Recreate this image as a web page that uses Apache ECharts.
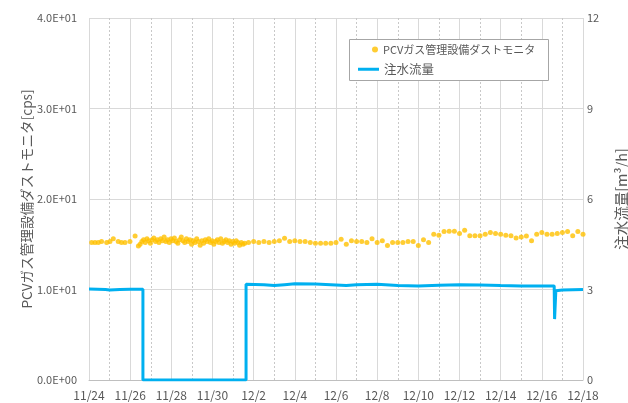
<!DOCTYPE html>
<html>
<head>
<meta charset="utf-8">
<script src="https://cdn.jsdelivr.net/npm/echarts@6/dist/echarts.min.js"></script>
<style>html,body{margin:0;padding:0;background:#fff;}#c{width:628px;height:403px;}</style>
</head>
<body>
<div id="c"></div>
<script>
// x values are days since 11/24
const xTickLabels = ['11/24','11/26','11/28','11/30','12/2','12/4','12/6','12/8','12/10','12/12','12/14','12/16','12/18'];
const leftTickLabels = ['0.0E+00','1.0E+01','2.0E+01','3.0E+01','4.0E+01'];
const rightTickLabels = ['0','3','6','9','12'];

const dustName = 'PCVガス管理設備ダストモニタ';
const flowName = '注水流量';

// dust monitor: early sparse readings [day, cps]
const dustEarly = [[0.13,15.2],[0.29,15.2],[0.45,15.2],[0.61,15.3],[0.86,15.2],[1.02,15.3],[1.18,15.6],[1.42,15.3],[1.58,15.2],[1.75,15.2],[1.99,15.3],[2.24,15.9]];
// dense readings every 2 hours starting day 2.40
const dustDenseStart = 2.40, dustDenseStep = 1/12;
const dustDense = [14.8,15.0,15.3,15.5,15.2,15.6,15.4,15.1,15.5,15.7,15.3,15.5,15.2,15.6,15.4,15.8,15.3,15.5,15.2,15.6,15.4,15.7,15.3,15.1,15.5,15.8,15.4,15.2,15.6,15.3,15.5,15.0,15.4,15.2,15.6,15.3,14.9,15.4,15.1,15.5,15.3,15.6,15.2,15.4,15.0,15.3,15.5,15.2,15.6,15.1,15.3,15.5,15.2,15.4,15.0,15.3,15.1,15.4,15.2,14.9,15.2,15.0,15.1];
// later readings every 6 hours starting day 7.75
const dustLateStart = 7.75, dustLateStep = 0.25;
const dustLate = [15.2,15.3,15.2,15.3,15.2,15.3,15.4,15.65,15.3,15.4,15.3,15.3,15.2,15.1,15.1,15.1,15.1,15.2,15.55,15.0,15.4,15.3,15.3,15.2,15.6,15.2,15.4,14.85,15.2,15.2,15.2,15.3,15.3,14.85,15.5,15.2,16.1,16.0,16.4,16.45,16.45,16.2,16.55,15.95,15.95,15.95,16.1,16.3,16.2,16.1,16.0,15.95,15.7,15.8,15.9,15.4,16.1,16.3,16.1,16.1,16.2,16.3,16.4,15.95,16.4,16.1];

// injection flow [day, m3/h]
const flow = [[0,3.02],[0.8,3.0],[1.0,2.98],[1.5,3.0],[2.0,3.01],[2.62,3.01],[2.62,0],[7.63,0],[7.63,3.17],[8.5,3.16],[9.0,3.13],[9.5,3.16],[10,3.19],[11,3.18],[12,3.15],[12.5,3.13],[13,3.16],[14,3.17],[15,3.13],[16,3.12],[17,3.14],[18,3.16],[19,3.15],[20,3.13],[21,3.12],[22,3.12],[22.6,3.12],[22.62,2.02],[22.66,2.02],[22.68,2.96],[23,2.98],[24,3.0]];

const dustData = dustEarly.slice();
dustDense.forEach((v,i)=>dustData.push([dustDenseStart+i*dustDenseStep, v]));
dustLate.forEach((v,i)=>dustData.push([dustLateStart+i*dustLateStep, v]));

const chart = echarts.init(document.getElementById('c'));
const gray = '#595959';
chart.setOption({
  animation:false,
  backgroundColor:'#fff',
  textStyle:{fontFamily:'"Noto Sans CJK JP","Noto Sans",sans-serif'},
  grid:{left:89,right:45,top:18,bottom:23,containLabel:false,outerBoundsMode:'none'},
  graphic:[{type:'rect',left:349,top:39,shape:{width:199,height:41},style:{fill:'#fff',stroke:'#a6a6a6',lineWidth:1},z:50}],
  legend:[
    {data:[{name:dustName,icon:'circle'}],left:372,top:44,padding:0,itemWidth:6,itemHeight:6,z:60,
     textStyle:{fontSize:11,color:gray}},
    {data:[{name:flowName,icon:'rect'}],left:358,top:63,padding:0,itemWidth:21,itemHeight:3,z:60,
     textStyle:{fontSize:12.5,color:gray}}
  ],
  xAxis:{type:'value',min:0,max:24,interval:2,
    axisLine:{show:true,lineStyle:{color:'#bfbfbf'}},axisTick:{show:false},
    axisLabel:{color:gray,fontSize:12,margin:9,formatter:v=>xTickLabels[Math.round(v/2)]},
    splitLine:{show:true,lineStyle:{color:'#d9d9d9',width:1}},
    minorTick:{show:false,splitNumber:2},
    minorSplitLine:{show:true,lineStyle:{color:'#c8c8c8',type:[2,2],width:1}}
  },
  yAxis:[
    {type:'value',min:0,max:40,interval:10,name:'PCVガス管理設備ダストモニタ[cps]',nameLocation:'middle',nameGap:55,nameRotate:90,nameMoveOverlap:false,
     nameTextStyle:{color:gray,fontSize:13.6},
     axisLine:{show:false},axisTick:{show:false},
     axisLabel:{color:gray,fontSize:11,margin:12,formatter:v=>leftTickLabels[Math.round(v/10)]},
     splitLine:{show:true,lineStyle:{color:'#d9d9d9'}}},
    {type:'value',min:0,max:12,interval:3,position:'right',name:'注水流量[m³/h]',nameLocation:'middle',nameGap:31,nameRotate:90,nameMoveOverlap:false,
     nameTextStyle:{color:gray,fontSize:14.5},
     axisLine:{show:false},axisTick:{show:false},
     axisLabel:{color:gray,fontSize:11,margin:4,formatter:v=>rightTickLabels[Math.round(v/3)]},
     splitLine:{show:false}}
  ],
  series:[
    {name:dustName,type:'scatter',yAxisIndex:0,data:dustData,symbol:'circle',symbolSize:5,
     itemStyle:{color:'#FFC000'},z:3},
    {name:flowName,type:'line',yAxisIndex:1,data:flow,showSymbol:false,symbol:'none',
     lineStyle:{color:'#00B0F0',width:3},itemStyle:{color:'#00B0F0'},z:4}
  ]
});
</script>
</body>
</html>
